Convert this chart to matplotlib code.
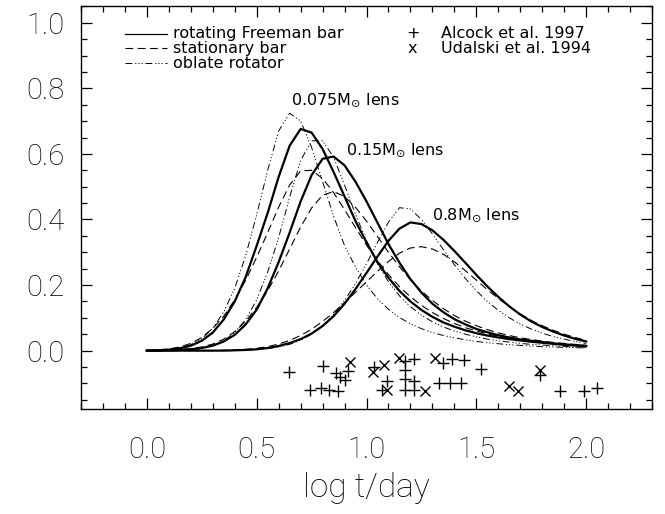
import numpy as np
import matplotlib
matplotlib.use('Agg')
import matplotlib.pyplot as plt
from matplotlib.ticker import MultipleLocator

plt.rcParams['font.family'] = ['Roboto', 'DejaVu Sans']
plt.rcParams['mathtext.fontset'] = 'dejavusans'

# log t grid the curves were read on
logt = np.round(np.arange(0.0, 2.0001, 0.05), 2)

# rotating Freeman bar (solid)
rot_075 = [0.000, 0.001, 0.003, 0.007, 0.015, 0.030, 0.055, 0.095, 0.150, 0.225,
           0.320, 0.420, 0.530, 0.625, 0.676, 0.665, 0.615, 0.545, 0.470, 0.395,
           0.330, 0.270, 0.222, 0.182, 0.150, 0.124, 0.103, 0.086, 0.073, 0.062,
           0.053, 0.046, 0.040, 0.035, 0.031, 0.027, 0.024, 0.021, 0.018, 0.016, 0.014]
rot_15 = [0.000, 0.000, 0.001, 0.002, 0.004, 0.008, 0.015, 0.028, 0.048, 0.080,
          0.125, 0.190, 0.270, 0.360, 0.455, 0.535, 0.585, 0.592, 0.565, 0.515,
          0.455, 0.390, 0.325, 0.268, 0.218, 0.177, 0.143, 0.117, 0.096, 0.080,
          0.066, 0.056, 0.047, 0.040, 0.034, 0.030, 0.026, 0.022, 0.019, 0.016, 0.014]
rot_8 = [0.000, 0.000, 0.000, 0.000, 0.000, 0.000, 0.000, 0.000, 0.001, 0.002,
         0.004, 0.008, 0.014, 0.023, 0.035, 0.052, 0.075, 0.105, 0.143, 0.188,
         0.237, 0.287, 0.335, 0.372, 0.391, 0.386, 0.367, 0.338, 0.304, 0.268,
         0.231, 0.196, 0.164, 0.135, 0.110, 0.089, 0.072, 0.058, 0.046, 0.036, 0.028]

# stationary bar (dashed)
sta_075 = [0.000, 0.002, 0.005, 0.011, 0.022, 0.040, 0.068, 0.105, 0.155, 0.215,
           0.285, 0.360, 0.438, 0.505, 0.548, 0.550, 0.525, 0.482, 0.430, 0.375,
           0.322, 0.274, 0.232, 0.195, 0.164, 0.138, 0.116, 0.098, 0.083, 0.070,
           0.060, 0.051, 0.044, 0.038, 0.033, 0.028, 0.025, 0.021, 0.019, 0.016, 0.014]
sta_15 = [0.000, 0.000, 0.001, 0.003, 0.006, 0.011, 0.020, 0.035, 0.058, 0.090,
          0.132, 0.183, 0.243, 0.310, 0.377, 0.435, 0.474, 0.485, 0.470, 0.437,
          0.395, 0.348, 0.300, 0.256, 0.216, 0.182, 0.153, 0.128, 0.107, 0.090,
          0.076, 0.064, 0.054, 0.046, 0.039, 0.034, 0.029, 0.025, 0.022, 0.019, 0.016]
sta_8 = [0.000, 0.000, 0.000, 0.000, 0.000, 0.000, 0.000, 0.001, 0.002, 0.004,
         0.007, 0.012, 0.020, 0.031, 0.046, 0.065, 0.089, 0.116, 0.146, 0.178,
         0.210, 0.242, 0.272, 0.297, 0.313, 0.317, 0.310, 0.294, 0.271, 0.244,
         0.215, 0.186, 0.159, 0.134, 0.112, 0.092, 0.076, 0.062, 0.050, 0.040, 0.031]

# oblate rotator (dash-dot-dot-dot)
obl_075 = [0.000, 0.001, 0.003, 0.008, 0.018, 0.036, 0.068, 0.118, 0.190, 0.290,
           0.415, 0.550, 0.670, 0.724, 0.700, 0.620, 0.515, 0.410, 0.320, 0.255,
           0.200, 0.158, 0.126, 0.101, 0.082, 0.067, 0.055, 0.046, 0.039, 0.033,
           0.028, 0.024, 0.021, 0.018, 0.016, 0.014, 0.012, 0.011, 0.010, 0.009, 0.008]
obl_15 = [0.000, 0.000, 0.001, 0.002, 0.004, 0.008, 0.016, 0.030, 0.055, 0.095,
          0.155, 0.240, 0.345, 0.468, 0.580, 0.640, 0.640, 0.590, 0.505, 0.415,
          0.335, 0.265, 0.210, 0.167, 0.134, 0.108, 0.088, 0.072, 0.060, 0.050,
          0.042, 0.035, 0.030, 0.026, 0.022, 0.019, 0.017, 0.015, 0.013, 0.011, 0.010]
obl_8 = [0.000, 0.000, 0.000, 0.000, 0.000, 0.000, 0.000, 0.000, 0.000, 0.001,
         0.003, 0.006, 0.011, 0.019, 0.032, 0.050, 0.076, 0.110, 0.153, 0.205,
         0.265, 0.330, 0.392, 0.436, 0.432, 0.400, 0.356, 0.308, 0.262, 0.220,
         0.183, 0.150, 0.123, 0.100, 0.081, 0.066, 0.053, 0.043, 0.035, 0.028, 0.022]

# observed events (log t, plotting offset)
alcock_x = [0.647, 0.803, 0.859, 0.879, 0.902, 0.915, 1.034, 1.177, 1.215, 1.349,
            1.390, 1.443, 1.521, 1.791, 1.173, 1.173, 1.215, 1.091, 0.743, 0.791,
            0.829, 0.870, 1.071, 1.177, 1.215, 1.329, 1.382, 1.430, 1.879, 1.988, 2.048]
alcock_y = [-0.066, -0.046, -0.069, -0.081, -0.091, -0.061, -0.049, -0.033, -0.025, -0.039,
            -0.026, -0.030, -0.057, -0.074, -0.059, -0.087, -0.092, -0.092, -0.120, -0.115,
            -0.120, -0.122, -0.120, -0.120, -0.120, -0.098, -0.098, -0.098, -0.122, -0.122, -0.115]
udalski_x = [0.923, 1.030, 1.079, 1.147, 1.314, 1.791, 1.091, 1.268, 1.647, 1.692]
udalski_y = [-0.035, -0.064, -0.044, -0.023, -0.023, -0.059, -0.120, -0.122, -0.107, -0.122]

labels = ['rotating Freeman bar', 'stationary bar', 'oblate rotator']
dd = (7, 3, 1.2, 2, 1.2, 2, 1.2, 3)
small = dict(fontsize=11.5, family='DejaVu Sans')

fig = plt.figure(figsize=(6.65, 5.14), dpi=100)
ax = fig.add_axes([0.1218, 0.2037, 0.8587, 0.7852])

for y in (rot_075, rot_15, rot_8):
    ax.plot(logt, y, color='black', lw=1.6)
for y in (sta_075, sta_15, sta_8):
    ax.plot(logt, y, color='black', lw=0.8, dashes=(7, 4))
for y in (obl_075, obl_15, obl_8):
    ax.plot(logt, y, color='black', lw=0.7, dashes=dd)

ax.plot(alcock_x, alcock_y, '+', color='black', ms=8.5, mew=1.0)
ax.plot(udalski_x, udalski_y, 'x', color='black', ms=7.5, mew=1.0)

ax.text(0.655, 0.764, r'0.075M$_{\odot}$ lens', va='center', **small)
ax.text(0.905, 0.611, r'0.15M$_{\odot}$ lens', va='center', **small)
ax.text(1.30, 0.414, r'0.8M$_{\odot}$ lens', va='center', **small)

# legend drawn by hand
rows = [0.930, 0.895, 0.858]
ax.plot([0.077, 0.151], [rows[0]] * 2, color='black', lw=0.9, transform=ax.transAxes)
ax.plot([0.077, 0.151], [rows[1]] * 2, color='black', lw=0.8, dashes=(7, 4), transform=ax.transAxes)
ax.plot([0.077, 0.151], [rows[2]] * 2, color='black', lw=0.7, dashes=dd, transform=ax.transAxes)
for r, lab in zip(rows, labels):
    ax.text(0.161, r, lab, va='center', transform=ax.transAxes, **small)
ax.text(0.581, rows[0], '+', va='center', ha='center', transform=ax.transAxes, **small)
ax.text(0.581, rows[1], 'x', va='center', ha='center', transform=ax.transAxes, **small)
ax.text(0.631, rows[0], 'Alcock et al. 1997', va='center', transform=ax.transAxes, **small)
ax.text(0.631, rows[1], 'Udalski et al. 1994', va='center', transform=ax.transAxes, **small)

ax.set_xlim(-0.3, 2.3)
ax.set_ylim(-0.179, 1.052)
ax.xaxis.set_major_locator(MultipleLocator(0.5))
ax.xaxis.set_minor_locator(MultipleLocator(0.1))
ax.yaxis.set_major_locator(MultipleLocator(0.2))
ax.yaxis.set_minor_locator(MultipleLocator(0.05))
ax.xaxis.set_major_formatter(lambda v, p: f'{v:.1f}')
ax.yaxis.set_major_formatter(lambda v, p: f'{v:.1f}')
ax.tick_params(which='both', direction='in', top=True, right=True, width=0.9)
ax.tick_params(which='major', length=8)
ax.tick_params(which='minor', length=4)
ax.tick_params(axis='x', which='major', labelsize=21, pad=19)
ax.tick_params(axis='y', which='major', labelsize=21, pad=12)
for t in ax.get_xticklabels() + ax.get_yticklabels():
    t.set_fontweight('light')
for s in ax.spines.values():
    s.set_linewidth(1.0)
ax.set_xlabel('log t/day', fontsize=24, fontweight='light', labelpad=6)

fig.savefig('out.png', dpi=100)
